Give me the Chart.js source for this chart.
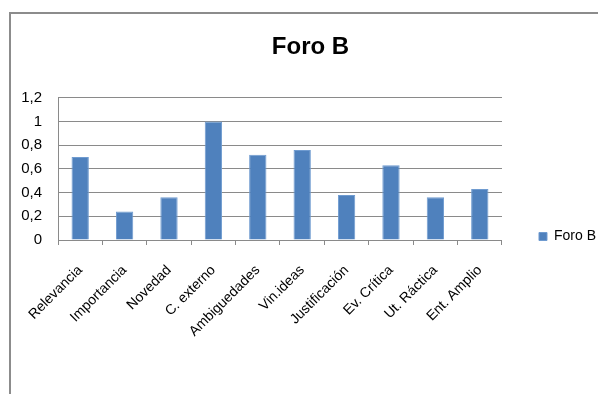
<!DOCTYPE html>
<html>
<head>
<meta charset="utf-8">
<script src="https://cdn.jsdelivr.net/npm/chart.js@4.4.1/dist/chart.umd.min.js"></script>
<style>
  html, body { margin: 0; padding: 0; background: #fff; overflow: hidden; }
  #frame {
    position: absolute; left: 9px; top: 12px; width: 620px; height: 420px;
    border-left: 2px solid #8c8c8c; border-top: 2px solid #8c8c8c;
  }
  #wrap { position: absolute; left: 0; top: 0; width: 598px; height: 394px; }
</style>
</head>
<body>
<div id="frame"></div>
<div id="wrap"><canvas id="chart" width="598" height="394"></canvas></div>
<script>
// Categories and values for the single series
const categories = ['Relevancia', 'Importancia', 'Novedad', 'C. externo', 'Ambiguedades',
    'Vin.ideas', 'Justificación', 'Ev. Crítica', 'Ut. Ráctica', 'Ent. Amplio'];
const foroB = [0.70, 0.24, 0.36, 1.00, 0.72, 0.76, 0.38, 0.63, 0.36, 0.43];
const yTickLabels = ['0', '0,2', '0,4', '0,6', '0,8', '1', '1,2'];

const FONT = '"Liberation Sans", sans-serif';
const PLOT_LEFT = 58;
const PLOT_BOTTOM = 240;

// Nudge the title and legend to sit like the spreadsheet layout
const nudgeBoxes = {
    id: 'nudgeBoxes',
    afterLayout(chart) {
        const t = chart.titleBlock;
        t.left += 21; t.right += 21;
        const lg = chart.legend;
        lg.left += 27; lg.right += 27;
        lg.top += 23; lg.bottom += 23;
    }
};

new Chart(document.getElementById('chart'), {
    type: 'bar',
    data: {
        labels: categories,
        datasets: [{
            label: 'Foro B',
            data: foroB,
            backgroundColor: '#4f81bd',
            borderColor: '#6f9bd0',
            borderWidth: 1,
            barPercentage: 0.39,
            categoryPercentage: 1
        }]
    },
    options: {
        responsive: false,
        animation: false,
        layout: { padding: { left: 0, top: 33, right: 19, bottom: 0 } },
        scales: {
            y: {
                min: 0,
                max: 1.2,
                ticks: {
                    stepSize: 0.2,
                    padding: 16,
                    color: '#000',
                    font: { family: FONT, size: 15 },
                    callback: (v, i) => yTickLabels[i]
                },
                grid: { color: '#8a8a8a', drawTicks: false },
                border: { color: '#8a8a8a' },
                afterFit: s => { s.width = PLOT_LEFT; }
            },
            x: {
                ticks: {
                    minRotation: 45,
                    maxRotation: 45,
                    padding: 17,
                    color: '#000',
                    font: { family: FONT, size: 14 }
                },
                grid: { drawOnChartArea: false, drawTicks: true, tickLength: 5, color: '#8a8a8a', offset: true },
                border: { color: '#8a8a8a' },
                afterFit: s => { s.height = 394 - PLOT_BOTTOM; }
            }
        },
        plugins: {
            title: {
                display: true,
                text: 'Foro B',
                color: '#000',
                font: { family: FONT, size: 24, weight: 'bold', lineHeight: 1.2 },
                padding: { top: 0, bottom: 36 }
            },
            legend: {
                position: 'right',
                align: 'center',
                labels: {
                    boxWidth: 8,
                    boxHeight: 8,
                    padding: 10,
                    color: '#000',
                    font: { family: FONT, size: 14 }
                }
            },
            tooltip: { enabled: false }
        }
    },
    plugins: [nudgeBoxes]
});
</script>
</body>
</html>
